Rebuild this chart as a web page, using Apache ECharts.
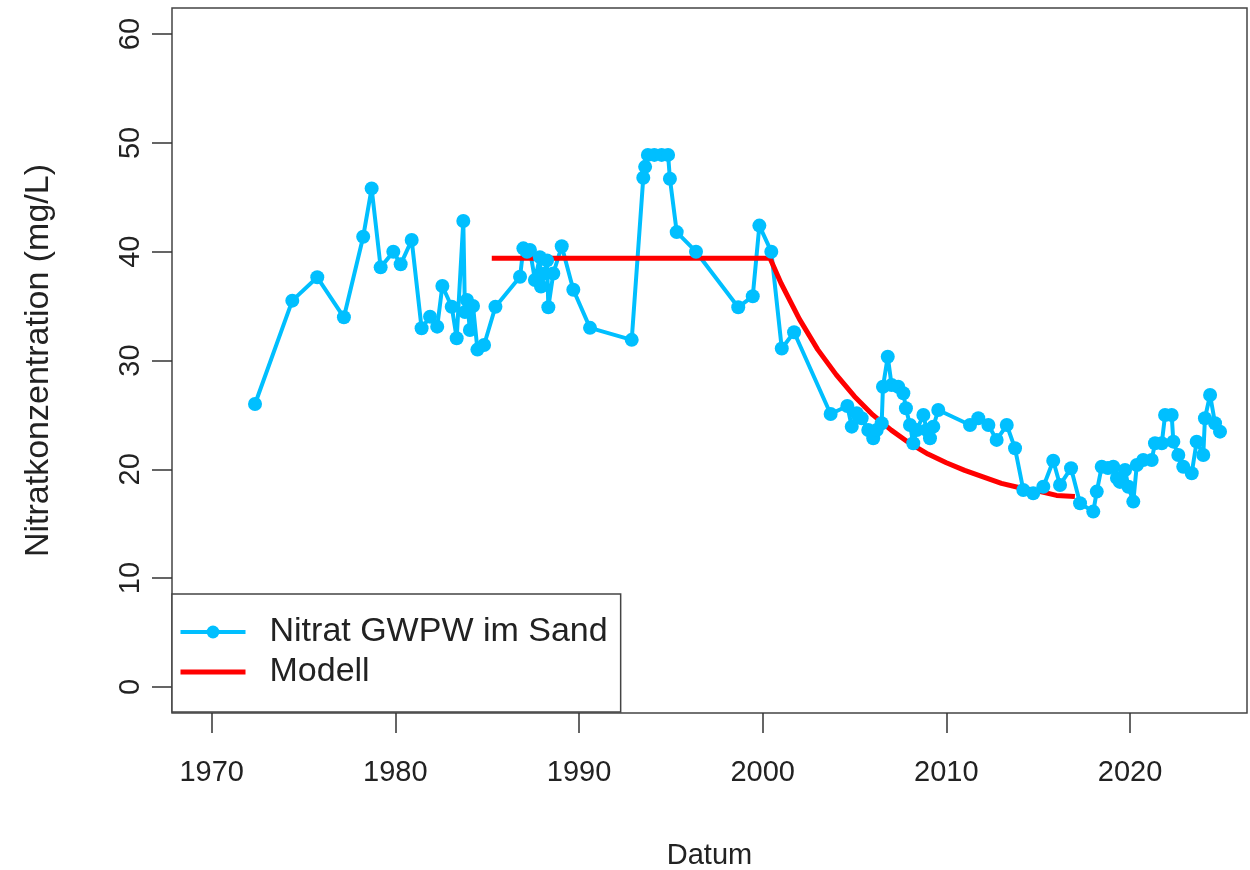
<!DOCTYPE html>
<html>
<head>
<meta charset="utf-8">
<script src="https://cdn.jsdelivr.net/npm/echarts@6.0.0/dist/echarts.min.js"></script>
<style>
html,body{margin:0;padding:0;background:#fff;overflow:hidden;}
#chart{width:1250px;height:870px;}
</style>
</head>
<body>
<div id="chart"></div>
<script>
// Observed nitrate (mg/L) at decimal years
var obsYears = [1972.36,1974.39,1975.75,1977.20,1978.25,1978.71,1979.20,1979.89,1980.29,1980.89,
  1981.43,1981.89,1982.28,1982.56,1983.07,1983.34,1983.70,1983.79,1983.90,1984.06,
  1984.23,1984.47,1984.83,1985.45,1986.79,1986.97,1987.17,1987.33,1987.60,1987.87,
  1987.93,1988.15,1988.26,1988.33,1988.60,1989.06,1989.69,1990.60,1992.87,1993.50,
  1993.60,1993.75,1994.10,1994.50,1994.85,1994.95,1995.32,1996.37,1998.67,1999.46,
  1999.82,2000.47,2001.04,2001.71,2003.70,2004.61,2004.85,2005.12,2005.39,2005.75,
  2006.02,2006.21,2006.48,2006.55,2006.81,2007.02,2007.38,2007.66,2007.80,2008.02,
  2008.20,2008.39,2008.75,2008.93,2009.11,2009.29,2009.56,2011.29,2011.74,2012.29,
  2012.74,2013.29,2013.74,2014.19,2014.73,2015.28,2015.82,2016.19,2016.79,2017.28,
  2018.00,2018.19,2018.46,2018.80,2019.09,2019.29,2019.45,2019.73,2019.91,2020.18,
  2020.37,2020.72,2021.18,2021.36,2021.73,2021.91,2022.27,2022.36,2022.63,2022.90,
  2023.36,2023.63,2023.99,2024.08,2024.36,2024.63,2024.90];
var obsValues = [26.0,35.5,37.65,33.97,41.38,45.82,38.56,40.0,38.84,41.07,
  32.96,34.03,33.11,36.85,34.94,32.04,42.82,34.46,35.56,32.8,
  35.01,31.0,31.42,34.94,37.7,40.31,40.0,40.15,37.4,39.5,
  36.8,38.0,39.2,34.9,38.0,40.5,36.5,33.0,31.9,46.8,
  47.8,48.9,48.9,48.9,48.9,46.7,41.8,40.0,34.9,35.9,
  42.4,40.0,31.1,32.6,25.08,25.82,23.92,25.15,24.69,23.61,
  22.85,23.61,24.23,27.59,30.35,27.75,27.59,26.99,25.61,24.07,
  22.39,23.61,24.99,23.61,22.85,23.92,25.45,24.07,24.69,24.07,
  22.70,24.07,21.93,18.10,17.80,18.40,20.79,18.56,20.10,16.88,
  16.11,17.95,20.24,20.12,20.24,19.2,18.84,19.94,18.40,17.03,
  20.40,20.86,20.86,22.39,22.39,24.99,24.99,22.54,21.32,20.24,
  19.64,22.54,21.32,24.69,26.83,24.23,23.46];

// Model curve (mg/L)
var modelYears = [1985.25,2000.4,2001,2002,2003,2004,2005,2006,2007,2008,2009,2010,2011,2012,2013,2014,2015,2016,2017];
var modelValues = [39.4,39.4,37.1,33.8,31.0,28.7,26.7,25.0,23.6,22.4,21.4,20.6,19.9,19.3,18.7,18.3,18.0,17.6,17.5];

var xTicks = [1970,1980,1990,2000,2010,2020];
var yTicks = [0,10,20,30,40,50,60];

var seriesNames = ['Nitrat GWPW im Sand','Modell'];
var xTitle = 'Datum';
var yTitle = 'Nitratkonzentration (mg/L)';

function zip(a,b){ var r=[]; for(var i=0;i<a.length;i++){ r.push([a[i],b[i]]); } return r; }

var FONT = 'Liberation Sans, Arial, sans-serif';
var chart = echarts.init(document.getElementById('chart'), null, {renderer:'canvas', width:1250, height:870});
chart.setOption({
  animation:false,
  backgroundColor:'#fff',
  grid:{left:172, width:1075, top:8, height:705, show:true, borderColor:'#444', borderWidth:1.5,
    backgroundColor:'transparent', outerBoundsMode:'none', containLabel:false},
  xAxis:{
    type:'value', min:1967.84, max:2026.37,
    name:xTitle, nameLocation:'middle', nameGap:128,
    nameTextStyle:{fontSize:29, color:'#222', fontFamily:FONT},
    axisLine:{show:false, onZero:false},
    splitLine:{show:false},
    axisTick:{show:true, length:20, customValues:xTicks, lineStyle:{color:'#333', width:1.5}},
    axisLabel:{customValues:xTicks, fontSize:29, color:'#222', fontFamily:FONT, margin:45,
      formatter:function(v){ return String(v); }}
  },
  yAxis:{
    type:'value', min:-2.4, max:62.4,
    name:yTitle, nameLocation:'middle', nameGap:116, nameRotate:90,
    nameTextStyle:{fontSize:34, color:'#222', fontFamily:FONT},
    axisLine:{show:false, onZero:false},
    splitLine:{show:false},
    axisTick:{show:true, length:20, customValues:yTicks, lineStyle:{color:'#333', width:1.5}},
    axisLabel:{customValues:yTicks, rotate:90, fontSize:29, color:'#222', fontFamily:FONT, margin:27,
      formatter:function(v){ return String(v); }}
  },
  legend:{
    show:true, orient:'vertical', left:172, top:594,
    backgroundColor:'#fff', borderColor:'#444', borderWidth:1.5,
    padding:[18,13,20,6], itemGap:0, itemWidth:65, itemHeight:16,
    lineStyle:{width:'inherit'},
    textStyle:{fontSize:34, color:'#222', fontFamily:FONT, padding:[0,0,0,19], lineHeight:40},
    data:[
      {name:seriesNames[0]},
      {name:seriesNames[1], itemStyle:{color:'rgba(0,0,0,0)', borderWidth:0, opacity:0}}
    ]
  },
  series:[
    {
      name:seriesNames[0], type:'line', data:zip(obsYears,obsValues),
      symbol:'circle', symbolSize:14, showSymbol:true,
      lineStyle:{color:'#00BFFF', width:4},
      itemStyle:{color:'#00BFFF'}
    },
    {
      name:seriesNames[1], type:'line', data:zip(modelYears,modelValues),
      symbol:'none', smooth:false,
      lineStyle:{color:'#FF0000', width:5},
      itemStyle:{color:'#FF0000'}
    }
  ]
});
</script>
</body>
</html>
